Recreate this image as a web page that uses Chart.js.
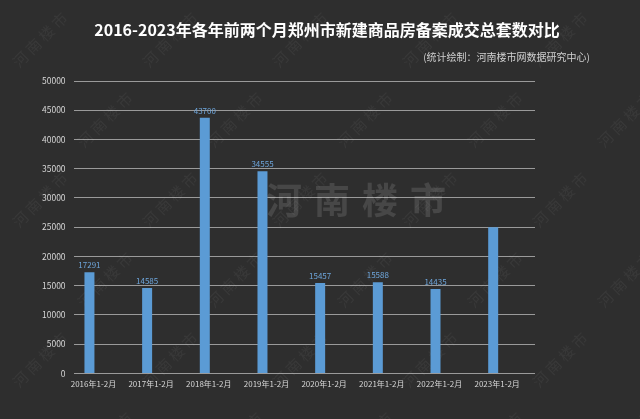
<!DOCTYPE html>
<html>
<head>
<meta charset="utf-8">
<script src="https://cdn.jsdelivr.net/npm/chart.js@4"></script>
<style>
  html, body { margin: 0; padding: 0; background: #2e2e2e; }
  #wrap { width: 640px; height: 419px; }
</style>
</head>
<body>
<div id="wrap"><canvas id="myBarChart"></canvas></div>
<script>
const categories = ['2016年1-2月', '2017年1-2月', '2018年1-2月', '2019年1-2月', '2020年1-2月', '2021年1-2月', '2022年1-2月', '2023年1-2月'];
const totals = [17291, 14585, 43700, 34555, 15457, 15588, 14435, 25000];
const showValue = [true, true, true, true, true, true, true, false];
const yTicks = [0, 5000, 10000, 15000, 20000, 25000, 30000, 35000, 40000, 45000, 50000];

const FONT = '"Noto Sans CJK SC", "Noto Sans", sans-serif';

// title, subtitle, watermark and value labels
const decor = {
  id: 'decor',
  beforeDatasetsDraw(chart) {
    const ctx = chart.ctx;
    ctx.save();
    // small tiled watermarks
    ctx.fillStyle = 'rgba(255,255,255,0.05)';
    ctx.font = '15px ' + FONT;
    ctx.textAlign = 'center';
    ctx.textBaseline = 'middle';
    for (let row = 0; row < 6; row++) {
      for (let col = 0; col < 6; col++) {
        const x = 40 + col * 130 + (row % 2) * 65;
        const y = 40 + row * 80;
        ctx.save();
        ctx.translate(x, y);
        ctx.rotate(-Math.PI / 4);
        ctx.fillText('河 南 楼 市', 0, 0);
        ctx.restore();
      }
    }
    // big centre watermark
    ctx.fillStyle = 'rgba(255,255,255,0.12)';
    ctx.font = 'bold 36px ' + FONT;
    ctx.letterSpacing = '12px';
    ctx.fillText('河南楼市', 362, 200);
    ctx.restore();
  },
  afterDraw(chart) {
    const ctx = chart.ctx;
    ctx.save();
    ctx.textBaseline = 'middle';
    ctx.fillStyle = '#ffffff';
    ctx.font = 'bold 16px ' + FONT;
    ctx.textAlign = 'center';
    ctx.fillText('2016-2023年各年前两个月郑州市新建商品房备案成交总套数对比', 327, 30);
    ctx.fillStyle = '#d0d0d0';
    ctx.font = '10px ' + FONT;
    ctx.textAlign = 'right';
    ctx.fillText('(统计绘制：河南楼市网数据研究中心)', 590, 57);

    const meta = chart.getDatasetMeta(0);
    ctx.fillStyle = '#6ea6dc';
    ctx.font = '8px ' + FONT;
    ctx.textAlign = 'center';
    ctx.textBaseline = 'bottom';
    meta.data.forEach((bar, i) => {
      if (!showValue[i]) return;
      ctx.fillText(String(totals[i]), bar.x, bar.y - 3);
    });
    ctx.restore();
  }
};

const ctx = document.getElementById('myBarChart').getContext('2d');
new Chart(ctx, {
  type: 'bar',
  data: {
    labels: categories,
    datasets: [
      {
        label: '成交套数',
        data: totals,
        backgroundColor: '#5b9bd5',
        borderWidth: 0,
        categoryPercentage: 0.9,
        barPercentage: 0.385,
      },
      {
        label: '',
        data: categories.map(() => null),
        backgroundColor: 'rgba(0,0,0,0)',
        categoryPercentage: 0.9,
        barPercentage: 0.385,
      },
    ],
  },
  options: {
    responsive: true,
    maintainAspectRatio: false,
    animation: false,
    layout: {
      padding: { top: 81, right: 105, bottom: 24, left: 34 },
    },
    scales: {
      x: {
        grid: { display: false, drawTicks: false },
        border: { display: false },
        ticks: {
          color: '#d6d6d6',
          font: { family: FONT, size: 8 },
          maxRotation: 0,
          autoSkip: false,
          padding: 6,
          labelOffset: -9,
        },
      },
      y: {
        min: 0,
        max: 50000,
        afterBuildTicks(axis) {
          axis.ticks = yTicks.map(v => ({ value: v }));
        },
        grid: { color: '#9a9a9a', lineWidth: 1, drawTicks: false },
        border: { display: false },
        ticks: {
          color: '#d6d6d6',
          font: { family: FONT, size: 8.5 },
          padding: 8,
          callback: v => String(v),
        },
      },
    },
    plugins: {
      legend: { display: false },
      tooltip: { enabled: false },
    },
  },
  plugins: [decor],
});
</script>
</body>
</html>
